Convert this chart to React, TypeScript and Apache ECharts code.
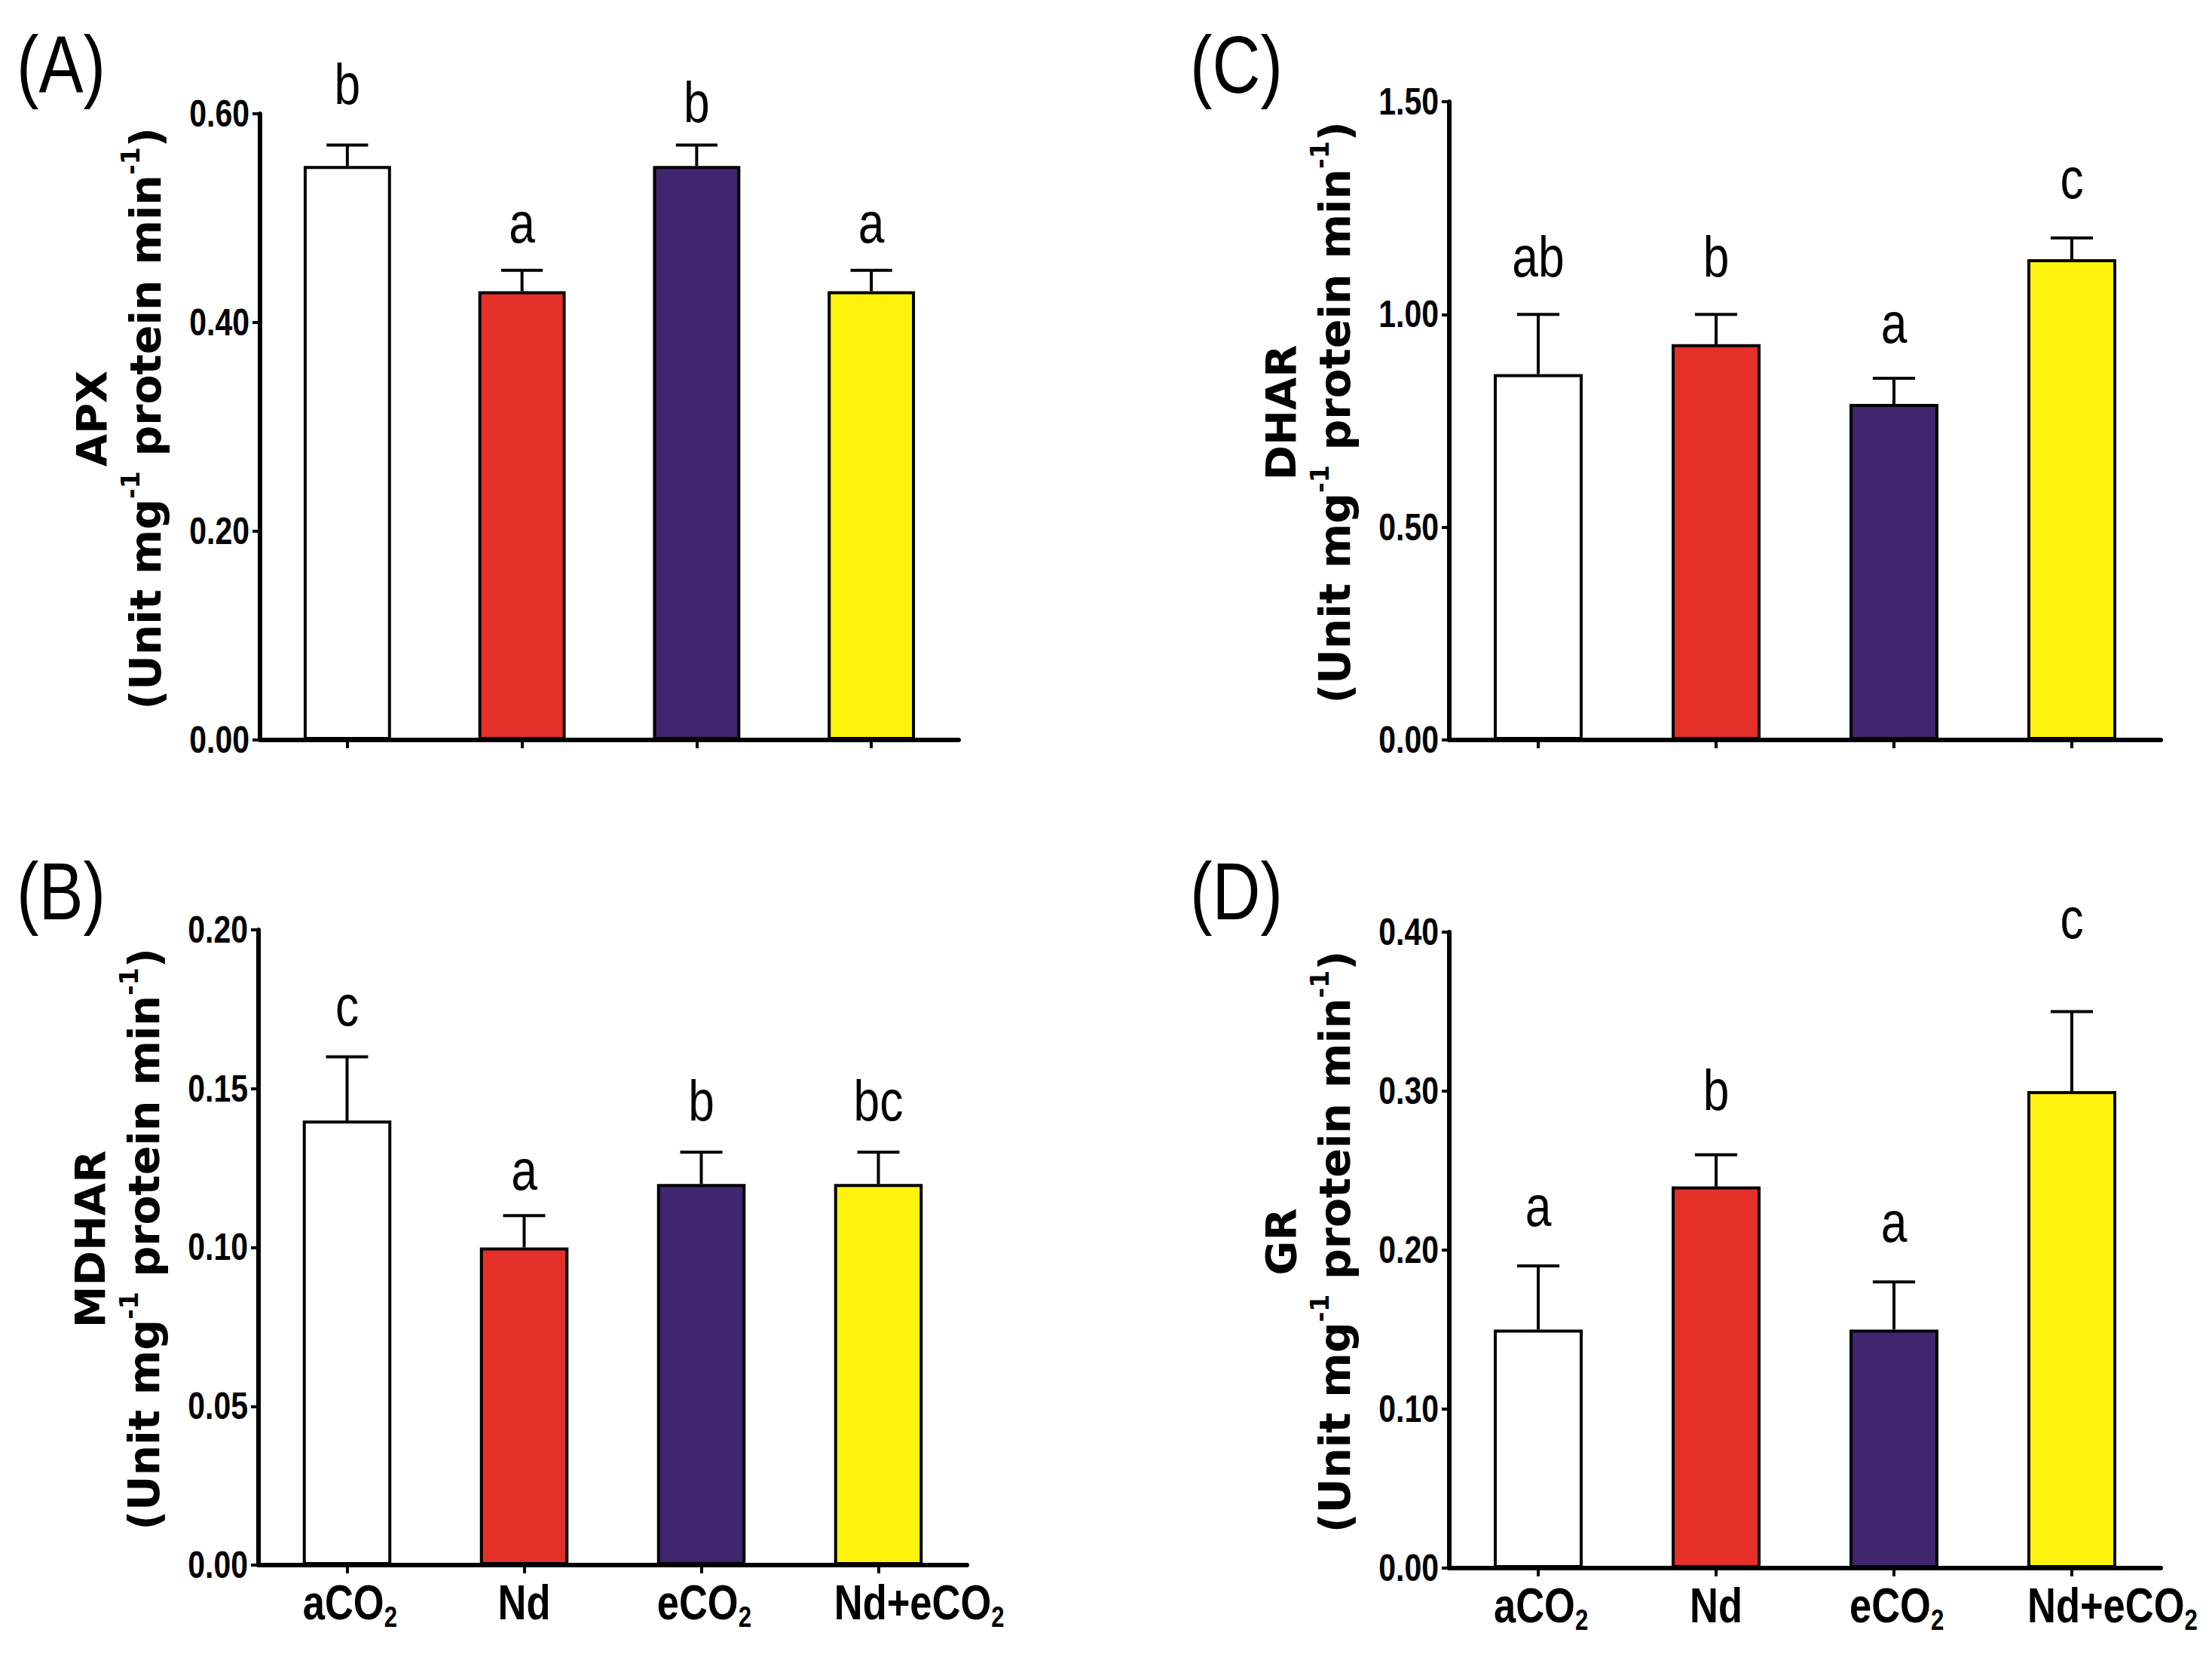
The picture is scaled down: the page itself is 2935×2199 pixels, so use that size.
import React, { useEffect, useRef } from 'react';
import * as echarts from 'echarts';

// ---------- data ----------
const categories = ['aCO2', 'Nd', 'eCO2', 'Nd+eCO2'];
const barColors = ['#ffffff', '#e5302a', '#40266e', '#fff20d'];

const apxMean = [0.55, 0.43, 0.55, 0.43];
const apxErr = [0.02, 0.02, 0.02, 0.02];
const apxLetters = ['b', 'a', 'b', 'a'];
const apxLetterY = [0.609, 0.476, 0.592, 0.476];
const apxTicks = [0, 0.2, 0.4, 0.6];

const mdharMean = [0.14, 0.1, 0.12, 0.12];
const mdharErr = [0.02, 0.01, 0.01, 0.01];
const mdharLetters = ['c', 'a', 'b', 'bc'];
const mdharLetterY = [0.1697, 0.118, 0.14, 0.14];
const mdharTicks = [0, 0.05, 0.1, 0.15, 0.2];

const dharMean = [0.86, 0.93, 0.79, 1.13];
const dharErr = [0.14, 0.07, 0.06, 0.05];
const dharLetters = ['ab', 'b', 'a', 'c'];
const dharLetterY = [1.089, 1.089, 0.932, 1.273];
const dharTicks = [0, 0.5, 1.0, 1.5];

const grMean = [0.15, 0.24, 0.15, 0.3];
const grErr = [0.04, 0.02, 0.03, 0.05];
const grLetters = ['a', 'b', 'a', 'c'];
const grLetterY = [0.215, 0.288, 0.205, 0.396];
const grTicks = [0, 0.1, 0.2, 0.3, 0.4];

const panelTitles = ['(A)', '(B)', '(C)', '(D)'];
const yNames = ['APX', 'MDHAR', 'DHAR', 'GR'];

// ---------- styles ----------
const SANS = "'Liberation Sans', Arial, sans-serif";
const WIDE = "'DejaVu Sans', Verdana, sans-serif";
const NARROW_SCALE = 0.82;

const panels = [
  { title: panelTitles[0], name: yNames[0], mean: apxMean, err: apxErr, letters: apxLetters, letterY: apxLetterY, ticks: apxTicks, showX: false,
    grid: { left: 345, top: 151, width: 927, height: 831 }, titlePos: [22, 86] },
  { title: panelTitles[1], name: yNames[1], mean: mdharMean, err: mdharErr, letters: mdharLetters, letterY: mdharLetterY, ticks: mdharTicks, showX: true,
    grid: { left: 343, top: 1234, width: 940, height: 843 }, titlePos: [22, 1183] },
  { title: panelTitles[2], name: yNames[2], mean: dharMean, err: dharErr, letters: dharLetters, letterY: dharLetterY, ticks: dharTicks, showX: false,
    grid: { left: 1923, top: 135, width: 944, height: 847 }, titlePos: [1579, 86] },
  { title: panelTitles[3], name: yNames[3], mean: grMean, err: grErr, letters: grLetters, letterY: grLetterY, ticks: grTicks, showX: true,
    grid: { left: 1923, top: 1237, width: 944, height: 844 }, titlePos: [1579, 1183] },
];

const LETTER_FS = 76;
const TICK_FS = 50;
const CAT_FS = 64;
const SUB_FS = 38;

function catRich(v: string) {
  if (v.endsWith('CO2')) return '{m|' + v.slice(0, -1) + '}{s|2}';
  return '{m|' + v + '}';
}

let measureCtx: CanvasRenderingContext2D | null = null;
function catWidth(v: string) {
  if (!measureCtx) measureCtx = document.createElement('canvas').getContext('2d');
  const ctx = measureCtx as CanvasRenderingContext2D;
  const hasSub = v.endsWith('CO2');
  const main = hasSub ? v.slice(0, -1) : v;
  ctx.font = 'bold ' + CAT_FS + 'px ' + SANS;
  let w = ctx.measureText(main).width;
  if (hasSub) {
    ctx.font = 'bold ' + SUB_FS + 'px ' + SANS;
    w += ctx.measureText('2').width;
  }
  return w * NARROW_SCALE;
}

function buildOption() {
  const grid = panels.map((p) => ({ ...p.grid, containLabel: false }));
  const xAxis = panels.map((p, i) => ({
    type: 'category',
    gridIndex: i,
    data: categories,
    axisLine: { show: true, lineStyle: { color: '#000', width: 6 } },
    axisTick: { show: true, alignWithLabel: true, length: 11, lineStyle: { color: '#000', width: 4 } },
    axisLabel: { show: false },
    splitLine: { show: false },
  }));
  const yAxis = panels.map((p, i) => ({
    type: 'value',
    gridIndex: i,
    min: p.ticks[0],
    max: p.ticks[p.ticks.length - 1],
    interval: p.ticks[1] - p.ticks[0],
    axisLine: { show: true, lineStyle: { color: '#000', width: 6 } },
    axisTick: { show: true, length: 10, lineStyle: { color: '#000', width: 4 } },
    axisLabel: { show: false },
    splitLine: { show: false },
    name: '{t|' + p.name + '}\n{u|(Unit mg}{p|-1}{u| protein min}{p|-1}{u|)}',
    nameLocation: 'middle',
    nameRotate: 90,
    nameGap: 117,
    nameTextStyle: {
      padding: [0, 0, 0, 22],
      rich: {
        t: { fontSize: 56, lineHeight: 71, fontWeight: 'bold', fontFamily: WIDE, color: '#000' },
        u: { fontSize: 57, lineHeight: 71, fontWeight: 'bold', fontFamily: WIDE, color: '#000' },
        p: { fontSize: 33, lineHeight: 30, verticalAlign: 'top', fontWeight: 'bold', fontFamily: WIDE, color: '#000' },
      },
    },
  }));

  const series: any[] = [];
  panels.forEach((p, i) => {
    // bars
    series.push({
      type: 'bar',
      xAxisIndex: i,
      yAxisIndex: i,
      barWidth: '50%',
      data: p.mean.map((v, j) => ({ value: v, itemStyle: { color: barColors[j] } })),
      itemStyle: { borderColor: '#000', borderWidth: 4 },
      z: 2,
    });
    // error bars + significance letters
    series.push({
      type: 'custom',
      xAxisIndex: i,
      yAxisIndex: i,
      clip: false,
      z: 3,
      data: p.mean.map((v, j) => [j, v, v + p.err[j], p.letterY[j]]),
      renderItem: (params: any, api: any) => {
        const j = api.value(0);
        const base = api.coord([j, api.value(1)]);
        const top = api.coord([j, api.value(2)]);
        const lab = api.coord([j, api.value(3)]);
        const band = api.size([1, 0])[0];
        const half = band * 0.119;
        return {
          type: 'group',
          children: [
            { type: 'line', shape: { x1: base[0], y1: base[1], x2: base[0], y2: top[1] }, style: { stroke: '#000', lineWidth: 4 } },
            { type: 'line', shape: { x1: base[0] - half, y1: top[1], x2: base[0] + half, y2: top[1] }, style: { stroke: '#000', lineWidth: 4 } },
            {
              type: 'text',
              x: lab[0],
              y: lab[1] - 0.35 * LETTER_FS,
              scaleX: NARROW_SCALE,
              style: { text: p.letters[params.dataIndex], fontSize: LETTER_FS, fontFamily: SANS, fill: '#000', align: 'center', verticalAlign: 'middle' },
            },
          ],
        };
      },
    });
    // y tick labels (narrow bold)
    series.push({
      type: 'custom',
      xAxisIndex: i,
      yAxisIndex: i,
      clip: false,
      z: 4,
      data: p.ticks.map((t) => [0, t]),
      renderItem: (params: any, api: any) => {
        const pt = api.coord([0, api.value(1)]);
        const x0 = params.coordSys.x;
        return {
          type: 'text',
          x: x0 - 14,
          y: pt[1],
          scaleX: NARROW_SCALE,
          style: {
            text: (api.value(1) as number).toFixed(2),
            fontSize: TICK_FS,
            fontWeight: 'bold',
            fontFamily: SANS,
            fill: '#000',
            align: 'right',
            verticalAlign: 'middle',
          },
        };
      },
    });
    // category labels (narrow bold with subscript); long labels start at the bar's left edge
    if (p.showX) {
      series.push({
        type: 'custom',
        xAxisIndex: i,
        yAxisIndex: i,
        clip: false,
        z: 4,
        data: categories.map((c, j) => [j, 0]),
        renderItem: (params: any, api: any) => {
          const j = api.value(0);
          const pt = api.coord([j, 0]);
          const band = api.size([1, 0])[0];
          const label = categories[params.dataIndex];
          const w = catWidth(label);
          const barLeft = pt[0] - band * 0.25;
          const left = Math.max(pt[0] - w / 2, barLeft);
          return {
            type: 'text',
            x: left,
            y: pt[1] + 12,
            scaleX: NARROW_SCALE,
            style: {
              text: catRich(label),
              align: 'left',
              verticalAlign: 'top',
              rich: {
                m: { fontSize: CAT_FS, lineHeight: 76, fontWeight: 'bold', fontFamily: SANS, fill: '#000' },
                s: { fontSize: SUB_FS, lineHeight: 20, verticalAlign: 'bottom', fontWeight: 'bold', fontFamily: SANS, fill: '#000' },
              },
            },
          };
        },
      });
    }
  });

  const graphic = panels.map((p) => ({
    type: 'text',
    x: p.titlePos[0],
    y: p.titlePos[1],
    scaleX: NARROW_SCALE,
    style: { text: p.title, fontSize: 108, fontFamily: SANS, fill: '#000', verticalAlign: 'middle' },
  }));

  return { animation: false, backgroundColor: '#fff', grid, xAxis, yAxis, series, graphic };
}

export default function App() {
  const ref = useRef<HTMLDivElement>(null);
  useEffect(() => {
    document.body.style.margin = '0';
    if (!ref.current) return;
    const chart = echarts.init(ref.current, undefined, { renderer: 'svg' });
    chart.setOption(buildOption() as any);
    return () => chart.dispose();
  }, []);
  return <div ref={ref} style={{ width: 2935, height: 2199 }} />;
}
